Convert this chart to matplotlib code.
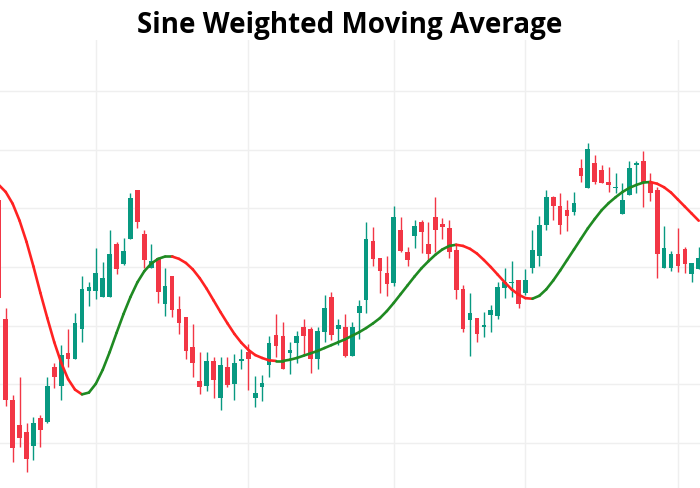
import matplotlib
matplotlib.use("Agg")
import matplotlib.pyplot as plt
import numpy as np
from matplotlib.collections import LineCollection

title = "Sine Weighted Moving Average"

opens = [51.4, 31.1, 17.3, 13.1, 11.8, 9.5, 14.2, 13.6, 22.9, 19.7,
         25.4, 24.3, 29.5, 35.9, 35.9, 34.9, 34.9, 43.9, 40.5, 44.8,
         53.1, 45.6, 39.9, 41.5, 33.7, 38.5, 32.8, 31.5, 26.4, 20.5,
         19.7, 24.0, 17.6, 22.9, 20.1, 24.0, 25.6, 17.6, 19.6, 23.3,
         28.4, 28.2, 25.4, 27.0, 29.8, 29.4, 24.4, 29.0, 34.9, 29.4,
         29.8, 24.8, 32.2, 34.3, 44.5, 41.5, 39.0, 37.2, 46.4, 42.6,
         45.3, 47.7, 43.9, 48.5, 47.3, 46.6, 42.9, 36.2, 30.9, 31.4,
         29.8, 31.8, 31.6, 36.5, 37.2, 37.8, 35.5, 39.9, 41.8, 47.2,
         52.0, 50.4, 49.8, 49.3, 56.9, 53.4, 57.8, 56.5, 54.5, 53.4,
         49.1, 52.3, 57.4, 58.0, 54.3, 53.1, 39.9, 39.8, 42.3, 43.0,
         38.9, 39.6]
highs = [52.0, 33.0, 18.2, 21.3, 13.4, 14.5, 14.8, 21.3, 23.6, 26.7,
         29.4, 32.2, 38.4, 37.5, 43.2, 40.9, 46.4, 44.3, 44.9, 52.7,
         53.2, 46.4, 43.9, 41.5, 39.9, 38.5, 35.1, 31.5, 30.3, 25.6,
         25.6, 24.7, 24.6, 24.7, 25.2, 26.1, 26.9, 21.4, 21.6, 28.2,
         32.0, 30.7, 27.3, 29.1, 31.1, 29.8, 29.7, 35.3, 35.8, 31.1,
         32.0, 30.7, 34.3, 47.6, 46.8, 41.5, 41.9, 50.4, 48.5, 43.5,
         48.1, 48.1, 47.7, 51.9, 48.3, 48.0, 43.9, 36.9, 35.6, 31.4,
         32.4, 33.5, 37.5, 39.9, 41.1, 37.8, 39.6, 46.4, 48.7, 53.2,
         52.1, 52.7, 51.5, 52.8, 58.4, 61.2, 59.1, 57.4, 57.0, 56.0,
         54.4, 58.0, 58.1, 59.7, 56.0, 53.7, 47.0, 42.8, 46.6, 43.5,
         40.7, 43.4]
lows = [34.0, 16.3, 6.8, 9.4, 5.1, 7.1, 9.4, 13.4, 19.3, 17.4,
        22.9, 24.3, 27.3, 33.4, 34.5, 34.9, 34.9, 38.9, 40.3, 44.8,
        46.6, 39.9, 39.9, 33.8, 31.6, 31.5, 28.6, 24.4, 21.3, 18.4,
        18.9, 17.6, 15.7, 19.5, 17.3, 22.6, 19.1, 16.2, 17.2, 21.3,
        24.7, 22.6, 21.8, 23.7, 25.0, 22.0, 22.6, 27.3, 27.6, 26.7,
        24.7, 24.8, 27.8, 32.2, 40.2, 35.6, 35.1, 36.8, 42.6, 40.2,
        43.2, 42.4, 41.1, 42.6, 44.7, 41.6, 34.5, 29.0, 24.8, 27.3,
        28.0, 29.0, 31.1, 34.8, 34.9, 33.0, 35.2, 39.0, 40.1, 46.3,
        48.1, 45.6, 46.2, 48.9, 54.5, 53.4, 54.1, 54.3, 52.8, 52.7,
        49.1, 52.3, 52.6, 50.2, 51.3, 38.1, 39.9, 39.4, 39.2, 39.0,
        37.5, 39.6]
closes = [34.7, 17.4, 9.1, 10.8, 7.2, 13.4, 12.3, 19.7, 21.3, 25.0,
          24.4, 30.5, 36.2, 36.6, 39.0, 38.2, 42.3, 39.6, 42.7, 51.7,
          47.6, 41.2, 41.1, 35.8, 36.8, 32.7, 30.5, 25.7, 23.7, 19.6,
          24.0, 20.7, 23.3, 19.9, 23.6, 24.3, 24.4, 18.5, 20.3, 27.0,
          26.5, 22.6, 25.9, 28.2, 28.2, 24.4, 29.1, 33.1, 28.4, 30.1,
          24.8, 29.7, 33.4, 44.7, 41.3, 39.4, 37.1, 48.6, 42.8, 41.2,
          47.0, 45.9, 42.2, 46.4, 46.8, 42.6, 36.1, 29.5, 32.2, 28.6,
          30.1, 32.6, 36.6, 37.5, 37.5, 33.7, 37.8, 42.9, 47.2, 51.9,
          50.4, 47.2, 48.7, 51.0, 55.5, 60.2, 54.5, 54.4, 54.0, 53.6,
          51.5, 56.8, 57.6, 54.3, 52.6, 42.2, 43.2, 42.2, 40.1, 40.6,
          40.7, 41.5]

swma = [54.0, 52.8, 50.8, 47.9, 44.3, 40.1, 35.6, 31.3, 27.2, 23.7,
        20.9, 19.1, 18.3, 18.6, 20.1, 22.5, 25.5, 28.8, 32.0, 34.9,
        37.4, 39.3, 40.6, 41.4, 41.8, 41.8, 41.4, 40.7, 39.6, 38.1,
        36.3, 34.3, 32.3, 30.4, 28.6, 27.1, 25.9, 25.0, 24.5, 24.1,
        24.0, 24.0, 24.2, 24.5, 24.9, 25.3, 25.7, 26.2, 26.7, 27.2,
        27.7, 28.3, 28.9, 29.6, 30.4, 31.3, 32.5, 33.9, 35.4, 36.9,
        38.4, 39.8, 41.0, 42.1, 43.0, 43.6, 43.8, 43.6, 43.1, 42.3,
        41.2, 40.0, 38.7, 37.4, 36.2, 35.3, 34.7, 34.6, 35.1, 36.2,
        37.7, 39.4, 41.2, 43.0, 44.8, 46.6, 48.2, 49.7, 50.9, 51.9,
        52.8, 53.5, 54.0, 54.4, 54.5, 54.2, 53.6, 52.7, 51.5, 50.3,
        49.1, 47.9]

grid_x = [14, 36, 57, 76, 98]
grid_y = [10, 20, 30, 40, 50, 60, 70]

UP = "#089981"
DOWN = "#f23645"
LINE_UP = "#1f8a22"
LINE_DOWN = "#ff2222"

fig = plt.figure(figsize=(7, 4.88), dpi=100)
ax = fig.add_axes([0, 0, 1, (488 - 40) / 488])

o = np.array(opens); h = np.array(highs); l = np.array(lows); c = np.array(closes)
x = np.arange(len(o))
up = c >= o
cols = np.where(up, UP, DOWN)

ax.vlines(x, l, h, colors=cols, linewidth=1.0, zorder=2)
bottoms = np.minimum(o, c)
heights = np.maximum(np.abs(c - o), 0.25)
ax.bar(x, heights, bottom=bottoms, width=0.68, color=cols, linewidth=0, zorder=3)

m = np.array(swma)
pts = np.column_stack([x, m]).reshape(-1, 1, 2)
segs = np.concatenate([pts[:-1], pts[1:]], axis=1)
seg_cols = [LINE_UP if m[i + 1] >= m[i] else LINE_DOWN for i in range(len(m) - 1)]
lc = LineCollection(segs, colors=seg_cols, linewidths=1.9, zorder=4, capstyle="round", joinstyle="round")
ax.add_collection(lc)

ax.set_xlim(1.2 / 6.93, 701.2 / 6.93)
ax.set_ylim(2.34, 78.7)
ax.set_xticks(grid_x)
ax.set_yticks(grid_y)
ax.grid(True, color="#efefef", linewidth=1.0, zorder=0)
ax.set_axisbelow(True)
ax.tick_params(length=0, labelbottom=False, labelleft=False)
for s in ax.spines.values():
    s.set_visible(False)

fig.text(0.5, 1 - 25 / 488, title, ha="center", va="center",
         fontsize=20, fontweight="bold", family=["Open Sans", "DejaVu Sans"], color="black")

fig.savefig("out.png", dpi=100, facecolor="white")
